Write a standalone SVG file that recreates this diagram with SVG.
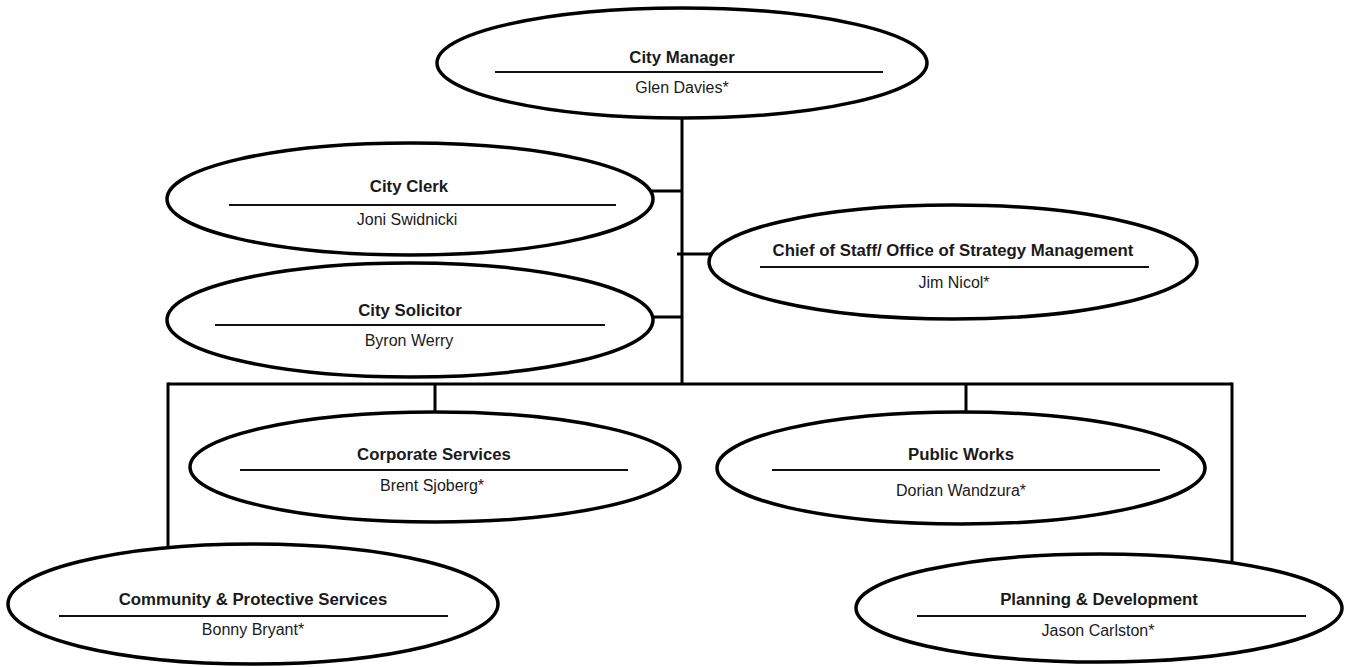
<svg xmlns="http://www.w3.org/2000/svg" width="1347" height="667" viewBox="0 0 1347 667">
<style>
.box{fill:#fff;stroke:#000;stroke-width:3.5}
.sep{stroke:#111;stroke-width:1.8}
.con{stroke:#000;stroke-width:3;fill:none}
.t{font-family:"Liberation Sans",Arial,sans-serif;font-weight:bold;font-size:16.8px;fill:#1a1a1a;text-anchor:middle}
.n{font-family:"Liberation Sans",Arial,sans-serif;font-size:16px;fill:#1a1a1a;text-anchor:middle}
</style>
<rect width="1347" height="667" fill="#fff"/>
<g id="connectors">
<line class="con" x1="682" y1="110" x2="682" y2="385"/>
<line class="con" x1="640" y1="191" x2="682" y2="191"/>
<line class="con" x1="640" y1="317" x2="682" y2="317"/>
<line class="con" x1="677" y1="254" x2="720" y2="254"/>
<line class="con" x1="168" y1="384" x2="1232" y2="384"/>
<line class="con" x1="168" y1="382.5" x2="168" y2="550"/>
<line class="con" x1="1232" y1="382.5" x2="1232" y2="566"/>
<line class="con" x1="435" y1="384" x2="435" y2="415"/>
<line class="con" x1="966" y1="384" x2="966" y2="416"/>
</g>
<g id="city-manager">
<ellipse class="box" cx="682" cy="63" rx="245" ry="55"/>
<line class="sep" x1="495" y1="72" x2="883" y2="72"/>
<text class="t" x="682" y="63">City Manager</text>
<text class="n" x="682" y="93">Glen Davies*</text>
</g>
<g id="city-clerk">
<ellipse class="box" cx="410" cy="199" rx="243" ry="56"/>
<line class="sep" x1="229" y1="205" x2="616" y2="205"/>
<text class="t" x="409" y="192">City Clerk</text>
<text class="n" x="407" y="225">Joni Swidnicki</text>
</g>
<g id="city-solicitor">
<ellipse class="box" cx="410" cy="320" rx="243" ry="57"/>
<line class="sep" x1="215" y1="325" x2="605" y2="325"/>
<text class="t" x="410" y="316">City Solicitor</text>
<text class="n" x="409" y="346">Byron Werry</text>
</g>
<g id="chief-of-staff">
<ellipse class="box" cx="953" cy="262" rx="244" ry="57"/>
<line class="sep" x1="760" y1="267" x2="1149" y2="267"/>
<text class="t" x="953" y="256">Chief of Staff/ Office of Strategy Management</text>
<text class="n" x="954" y="288">Jim Nicol*</text>
</g>
<g id="corporate-services">
<ellipse class="box" cx="435" cy="467" rx="245" ry="55"/>
<line class="sep" x1="240" y1="470" x2="628" y2="470"/>
<text class="t" x="434" y="460">Corporate Services</text>
<text class="n" x="432" y="491">Brent Sjoberg*</text>
</g>
<g id="public-works">
<ellipse class="box" cx="961" cy="468" rx="244" ry="56"/>
<line class="sep" x1="772" y1="470" x2="1160" y2="470"/>
<text class="t" x="961" y="460">Public Works</text>
<text class="n" x="961" y="496">Dorian Wandzura*</text>
</g>
<g id="community-protective-services">
<ellipse class="box" cx="253" cy="604" rx="245" ry="60"/>
<line class="sep" x1="59" y1="616" x2="448" y2="616"/>
<text class="t" x="253" y="605">Community &amp; Protective Services</text>
<text class="n" x="253" y="635">Bonny Bryant*</text>
</g>
<g id="planning-development">
<ellipse class="box" cx="1099" cy="608" rx="243" ry="54"/>
<line class="sep" x1="917" y1="616" x2="1306" y2="616"/>
<text class="t" x="1099" y="605">Planning &amp; Development</text>
<text class="n" x="1098" y="636">Jason Carlston*</text>
</g>
</svg>
